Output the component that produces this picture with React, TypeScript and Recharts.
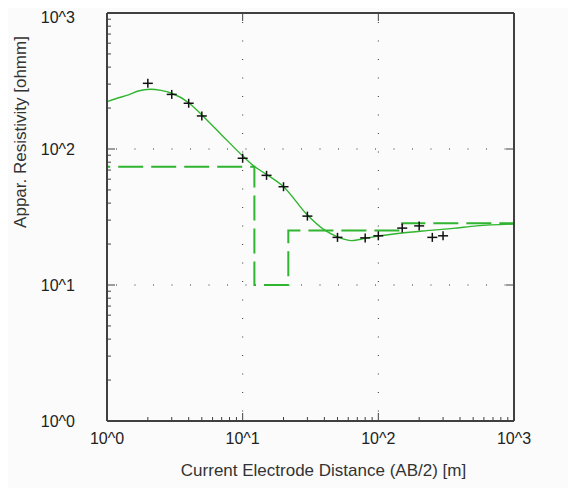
import React from 'react'
import { ComposedChart, Line, Scatter, XAxis, YAxis, CartesianGrid } from 'recharts'

// measured sounding points (AB/2 in m, apparent resistivity in ohmm)
const measuredAB2 = [2, 3, 4, 5, 10, 15, 20, 30, 50, 80, 100, 150, 200, 250, 300]
const measuredRho = [304, 252, 217, 175, 85.5, 64, 52.8, 32.1, 22.4, 22.2, 23.0, 26.2, 27.2, 22.4, 23.0]

// calculated response curve
const curveAB2 = [1, 1.2, 1.44, 1.7, 2.07, 2.5, 3, 4, 5, 7, 10, 12.3, 15, 20, 30, 40, 50, 63.6, 80, 100, 144, 227, 357, 531, 1000]
const curveRho = [223, 237, 250, 267, 275, 270, 257, 219, 178, 127, 89, 74, 65, 52.8, 32.7, 25.4, 22.6, 21.2, 22.0, 22.9, 24.0, 25.1, 26.1, 27.2, 28.1]

// layered model (step line)
const modelAB2 = [1, 1, 12.2, 12.2, 21.7, 21.7, 150, 150, 1000]
const modelRho = [1000, 74, 74, 10, 10, 25.2, 25.2, 28.4, 28.4]

const majorTicks = [1, 10, 100, 1000]
const innerMajor = [10, 100]
const minorTicks = [2, 3, 4, 5, 6, 7, 8, 9, 20, 30, 40, 50, 60, 70, 80, 90, 200, 300, 400, 500, 600, 700, 800, 900]
const tickLabels = ['10^0', '10^1', '10^2', '10^3']

const measured = measuredAB2.map((x, i) => ({ x, y: measuredRho[i] }))
const curve = curveAB2.map((x, i) => ({ x, y: curveRho[i] }))
const model = modelAB2.map((x, i) => ({ x, y: modelRho[i] }))

const GREEN = '#2fb52f'
const FRAME = '#404040'
const FONT = '"Liberation Sans", Arial, sans-serif'
const logFmt = (v: number) => tickLabels[majorTicks.indexOf(v)] ?? ''
const blank = () => ''

function Cross(props: any) {
  const { cx, cy } = props
  return (
    <g stroke="#111" strokeWidth={1.5}>
      <line x1={cx - 5} y1={cy} x2={cx + 5} y2={cy} />
      <line x1={cx} y1={cy - 4.5} x2={cx} y2={cy + 4.5} />
    </g>
  )
}

const common = { type: 'number' as const, scale: 'log' as const, domain: [1, 1000], allowDataOverflow: true }
const tickStyle = { fill: '#222', fontSize: 16, fontFamily: FONT }

// chart sits inside the 8px body margin, so it is 8px smaller on the left and top
export default function App() {
  return (
    <div style={{ width: 568, height: 480, background: '#fbfbfb', boxShadow: '0 0 0 8px #fbfbfb' }}>
      <ComposedChart width={568} height={480} data={curve} margin={{ top: 5, right: 62, bottom: 0, left: 0 }}>
        <CartesianGrid stroke="#333" strokeDasharray="1 17.5" strokeDashoffset={9.5} />
        <XAxis {...common} dataKey="x" ticks={majorTicks} tickFormatter={logFmt} height={67} tickLine={false} tickSize={0} tickMargin={12}
          stroke={FRAME} strokeWidth={2} tick={tickStyle}
          label={{ value: 'Current Electrode Distance (AB/2) [m]', position: 'insideBottom', offset: 12, dx: 13, fill: '#333', fontSize: 17, fontFamily: FONT }} />
        <XAxis {...common} xAxisId="top" dataKey="x" orientation="top" mirror ticks={innerMajor} tickFormatter={blank} tickSize={8} stroke={FRAME} strokeWidth={2} tickLine={{ strokeWidth: 1 }} />
        <XAxis {...common} xAxisId="bmin" dataKey="x" mirror ticks={minorTicks} height={1} tickFormatter={blank} tickSize={3} axisLine={false} stroke={FRAME} />
        <XAxis {...common} xAxisId="bmaj" dataKey="x" mirror ticks={innerMajor} height={1} tickFormatter={blank} tickSize={8} axisLine={false} stroke={FRAME} />
        <YAxis {...common} width={99} ticks={majorTicks} tickFormatter={logFmt} tickLine={false} tickSize={0} tickMargin={32}
          stroke={FRAME} strokeWidth={2} tick={tickStyle}
          label={{ value: 'Appar. Resistivity [ohmm]', angle: -90, position: 'insideLeft', offset: 12, dy: -85, fill: '#333', fontSize: 17, fontFamily: FONT, textAnchor: 'middle' }} />
        <YAxis {...common} yAxisId="right" orientation="right" mirror ticks={innerMajor} tickFormatter={blank} tickSize={8} stroke={FRAME} strokeWidth={2} tickLine={{ strokeWidth: 1 }} />
        <YAxis {...common} yAxisId="lmin" mirror ticks={minorTicks} width={1} tickFormatter={blank} tickSize={3} axisLine={false} stroke={FRAME} />
        <YAxis {...common} yAxisId="lmaj" mirror ticks={innerMajor} width={1} tickFormatter={blank} tickSize={8} axisLine={false} stroke={FRAME} />
        <Line data={model} dataKey="y" type="linear" stroke={GREEN} strokeWidth={2} strokeDasharray="25 8" dot={false} isAnimationActive={false} />
        <Line data={curve} dataKey="y" type="monotone" stroke={GREEN} strokeWidth={1.4} dot={false} isAnimationActive={false} />
        <Scatter data={measured} dataKey="y" shape={<Cross />} isAnimationActive={false} />
      </ComposedChart>
    </div>
  )
}
